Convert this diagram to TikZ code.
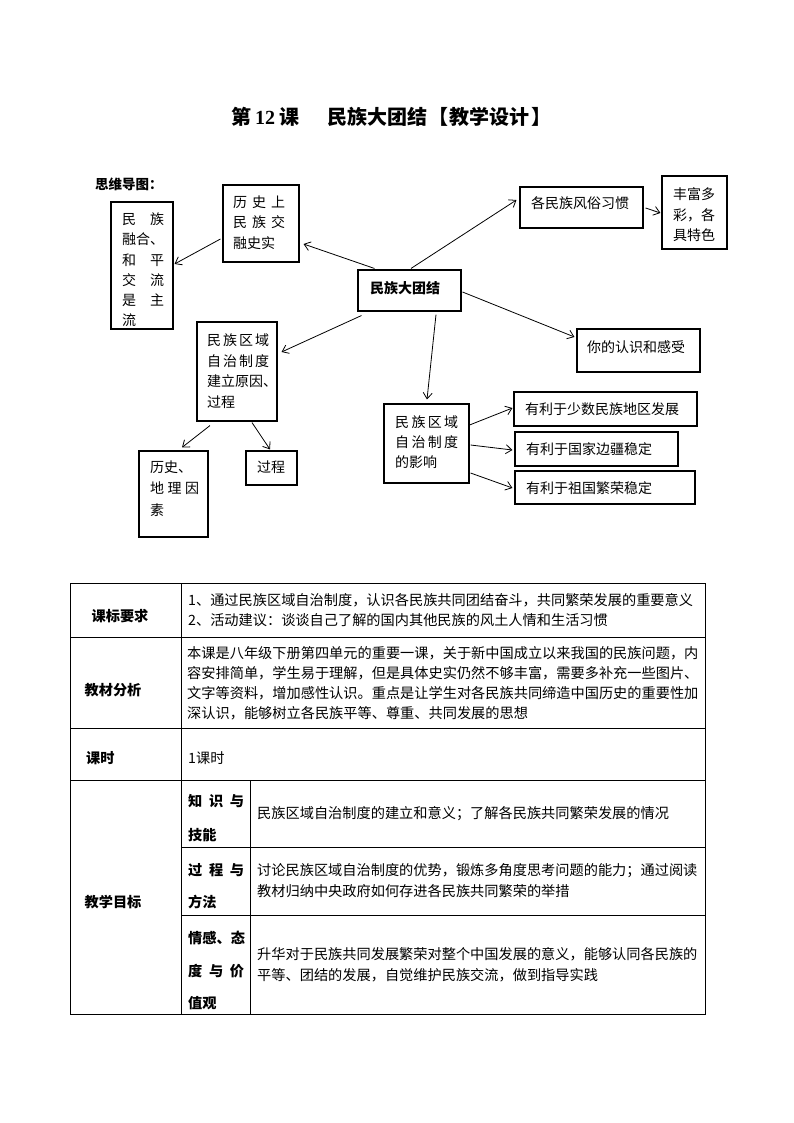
\documentclass[tikz,border=0pt]{standalone}
\usepackage{fontspec}
\setmainfont{Noto Sans CJK SC}
\newfontfamily\serifdig{Liberation Serif}
\usetikzlibrary{arrows.meta,calc}
\newcommand\myjust[2]{\makebox[#1][s]{#2}}
\begin{document}
\begin{tikzpicture}[x=1pt,y=-1pt,
  box/.style={draw=black, line width=1.1pt, inner sep=0pt, rectangle},
  txt/.style={inner sep=0pt, anchor=west, align=left, font=\fontsize{14pt}{20.5pt}\selectfont},
  ttxt/.style={inner sep=0pt, anchor=west, align=left, font=\fontsize{14.2pt}{20.3pt}\selectfont},
  tlab/.style={inner sep=0pt, align=left, font=\fontsize{14.2pt}{20.3pt}\selectfont\bfseries},
  conn/.style={draw=black, line width=0.8pt, -{Straight Barb[length=6pt,width=9pt]}},
  tline/.style={draw=black, line width=1pt}]
\fill[white] (0,0) rectangle (794,1123);
\useasboundingbox (0,0) rectangle (794,1123);

% title
\node[anchor=west, inner sep=0pt, font=\fontsize{20pt}{20pt}\selectfont\bfseries] (title) at (231,117)
  {第\hspace{4pt}{\serifdig 12}\hspace{4pt}课\hspace{28pt}民族大团结\hspace{1pt}【\hspace{1.5pt}教学设计\hspace{1.5pt}】};
\node[anchor=west, inner sep=0pt, font=\fontsize{13.5pt}{14pt}\selectfont\bfseries] (swdt) at (95,184) {思维导图：};

% mind map boxes
\node[box, minimum width=62pt, minimum height=127pt] (rh) at (142,265.5) {};
\node[box, minimum width=76pt, minimum height=77pt] (ls) at (261,223.5) {};
\node[box, minimum width=103pt, minimum height=41pt] (ct) at (409.5,290.5) {};
\node[box, minimum width=123pt, minimum height=41pt] (fs) at (581.5,207.5) {};
\node[box, minimum width=65pt, minimum height=73pt] (ff) at (694.5,212.5) {};
\node[box, minimum width=123pt, minimum height=43pt] (ns) at (638.5,350.5) {};
\node[box, minimum width=80pt, minimum height=99pt] (jl) at (237,371.5) {};
\node[box, minimum width=69pt, minimum height=86pt] (dl) at (173.5,494) {};
\node[box, minimum width=51pt, minimum height=34pt] (gc) at (271.5,468) {};
\node[box, minimum width=85pt, minimum height=79pt] (yx) at (426.5,443.5) {};
\node[box, minimum width=183pt, minimum height=34pt] (y1) at (605.5,409) {};
\node[box, minimum width=163pt, minimum height=34pt] (y2) at (596.5,449) {};
\node[box, minimum width=180pt, minimum height=33pt] (y3) at (605,487.5) {};

% mind map texts
\node[txt, font=\fontsize{14pt}{20.2pt}\selectfont] (rh-t) at (122,269.8)
  {\myjust{42pt}{民\hfill 族}\\融合、\\\myjust{42pt}{和\hfill 平}\\\myjust{42pt}{交\hfill 流}\\\myjust{42pt}{是\hfill 主}\\流};
\node[txt] (ls-t) at (233,222.5)
  {\myjust{52pt}{历\hfill 史\hfill 上}\\\myjust{52pt}{民\hfill 族\hfill 交}\\融史实};
\node[txt, font=\fontsize{14pt}{20.5pt}\selectfont\bfseries] (ct-t) at (370,288) {民族大团结};
\node[txt] (fs-t) at (531,203) {各民族风俗习惯};
\node[txt] (ff-t) at (673,214.7) {丰富多\\彩，各\\具特色};
\node[txt] (ns-t) at (587,347) {你的认识和感受};
\node[txt, font=\fontsize{14pt}{20.7pt}\selectfont] (jl-t) at (207,371)
  {\myjust{62pt}{民\hfill 族\hfill 区\hfill 域}\\\myjust{62pt}{自\hfill 治\hfill 制\hfill 度}\\建立原因、\\过程};
\node[txt, font=\fontsize{14pt}{21.5pt}\selectfont] (dl-t) at (150,488.3)
  {历史、\\\myjust{49pt}{地\hfill 理\hfill 因}\\素};
\node[txt] (gc-t) at (257,467) {过程};
\node[txt, font=\fontsize{14pt}{20pt}\selectfont] (yx-t) at (395,442)
  {\myjust{63pt}{民\hfill 族\hfill 区\hfill 域}\\\myjust{63pt}{自\hfill 治\hfill 制\hfill 度}\\的影响};
\node[txt] (y1-t) at (525,409) {有利于少数民族地区发展};
\node[txt] (y2-t) at (526,449) {有利于国家边疆稳定};
\node[txt] (y3-t) at (526,488) {有利于祖国繁荣稳定};

% connectors
\draw[conn] ($(ct.north west)+(17,-1)$) -- ($(ls.east)+(4,20.5)$);
\draw[conn] ($(ls.west)+(-2,15.5)$) -- ($(rh.east)+(1,-1.5)$);
\draw[conn] ($(ct.north)+(1.5,-1)$) -- ($(fs.west)+(-3,-7.5)$);
\draw[conn] ($(fs.east)+(2,0.5)$) -- ($(ff.west)+(-1,0.5)$);
\draw[conn] ($(ct.east)+(1,1.5)$) -- ($(ns.west)+(-2,-13.5)$);
\draw[conn] ($(ct.south)+(26.5,3)$) -- ($(yx.north)+(0.5,-4)$);
\draw[conn] ($(ct.south west)+(4,4)$) -- ($(jl.east)+(4,-19.5)$);
\draw[conn] ($(jl.south)+(-27,4)$) -- ($(dl.north)+(8.5,-3)$);
\draw[conn] ($(jl.south)+(15,1)$) -- ($(gc.north)+(-1.5,-1)$);
\draw[conn] ($(yx.east)+(0,-18.5)$) -- ($(y1.west)+(-1,-1)$);
\draw[conn] ($(yx.east)+(1,1.5)$) -- ($(y2.west)+(-2,1)$);
\draw[conn] ($(yx.east)+(1,29.5)$) -- ($(y3.west)+(-2,0.5)$);

% table
\draw[tline] (70,583) rectangle (705,1014);
\draw[tline] (70,637) -- (705,637);
\draw[tline] (70,728) -- (705,728);
\draw[tline] (70,780) -- (705,780);
\draw[tline] (181.7,583) -- (181.7,1014);
\draw[tline] (250,780) -- (250,1014);
\draw[tline] (181.7,847) -- (705,847);
\draw[tline] (181.7,915) -- (705,915);

\node[tlab] (r1-l) at (120,616) {课标要求};
\node[ttxt, font=\fontsize{14.2pt}{20pt}\selectfont] (r1-t) at (188,610)
  {1、通过民族区域自治制度，认识各民族共同团结奋斗，共同繁荣发展的重要意义\\2、活动建议：谈谈自己了解的国内其他民族的风土人情和生活习惯};
\node[tlab] (r2-l) at (113,690) {教材分析};
\node[ttxt, font=\fontsize{14.2pt}{20pt}\selectfont] (r2-t) at (187,683)
  {本课是八年级下册第四单元的重要一课，关于新中国成立以来我国的民族问题，内\\容安排简单，学生易于理解，但是具体史实仍然不够丰富，需要多补充一些图片、\\文字等资料，增加感性认识。重点是让学生对各民族共同缔造中国历史的重要性加\\深认识，能够树立各民族平等、尊重、共同发展的思想};
\node[tlab, anchor=west] (r3-l) at (86,758) {课时};
\node[ttxt] (r3-t) at (188,758) {1课时};
\node[tlab] (r4-l) at (113,902) {教学目标};

\node[tlab, anchor=west, font=\fontsize{14.2pt}{34pt}\selectfont\bfseries] (k1-l) at (188,818)
  {\myjust{56pt}{知\hfill 识\hfill 与}\\技能};
\node[tlab, anchor=west, font=\fontsize{14.2pt}{32pt}\selectfont\bfseries] (k2-l) at (188,886)
  {\myjust{56pt}{过\hfill 程\hfill 与}\\方法};
\node[tlab, anchor=west, font=\fontsize{14.2pt}{32.5pt}\selectfont\bfseries] (k3-l) at (188,970.5)
  {情感、态\\\myjust{56pt}{度\hfill 与\hfill 价}\\值观};

\node[ttxt] (k1-t) at (257,814) {民族区域自治制度的建立和意义；了解各民族共同繁荣发展的情况};
\node[ttxt, font=\fontsize{14.2pt}{21pt}\selectfont] (k2-t) at (257,880.5)
  {讨论民族区域自治制度的优势，锻炼多角度思考问题的能力；通过阅读\\教材归纳中央政府如何存进各民族共同繁荣的举措};
\node[ttxt, font=\fontsize{14.2pt}{21pt}\selectfont] (k3-t) at (257,964.5)
  {升华对于民族共同发展繁荣对整个中国发展的意义，能够认同各民族的\\平等、团结的发展，自觉维护民族交流，做到指导实践};
\end{tikzpicture}
\end{document}
